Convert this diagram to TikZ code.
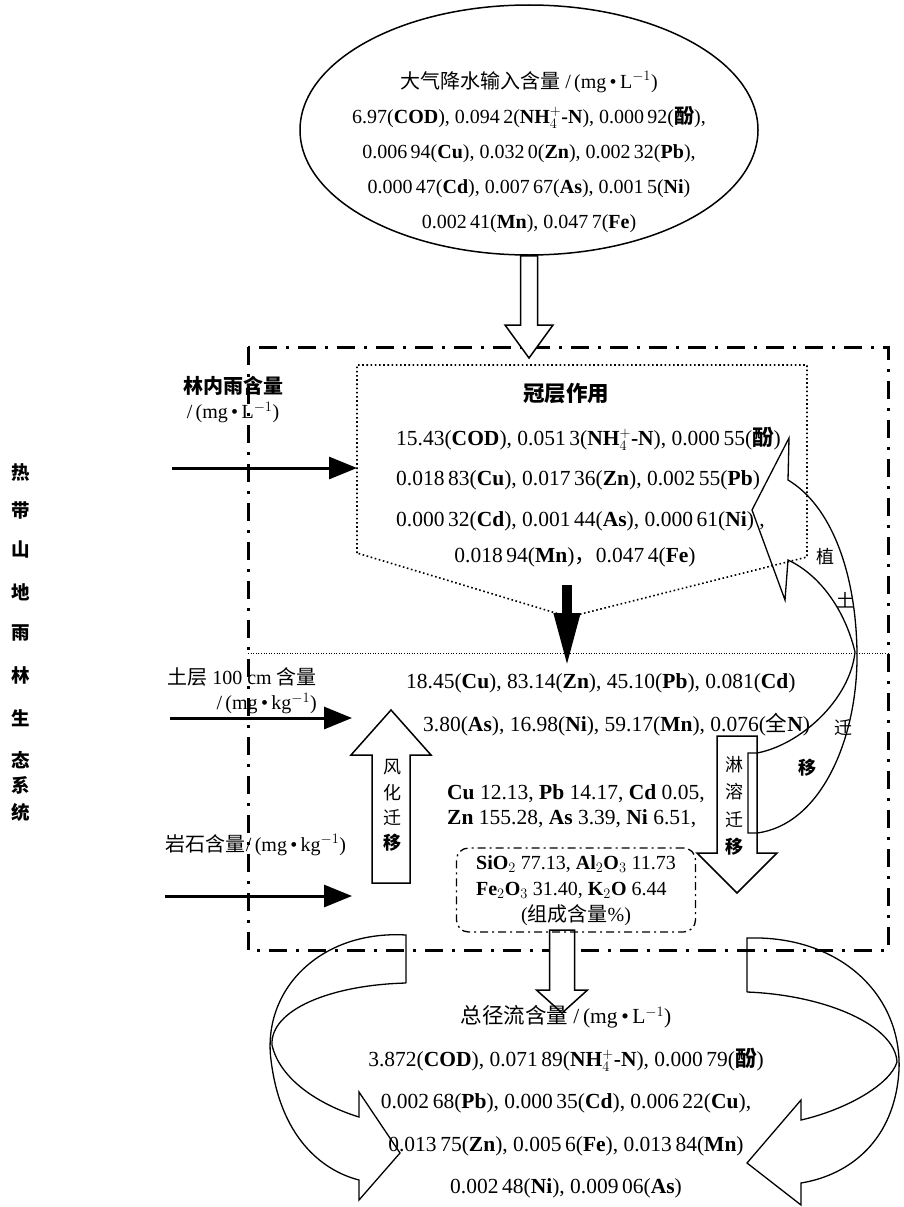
\documentclass[tikz,border=0pt]{standalone}
\usepackage{fontspec}
\setmainfont{Liberation Serif}
\newfontfamily\cjk{Noto Sans CJK SC}
\usetikzlibrary{arrows.meta,calc,shapes.geometric}

\newcommand{\zh}[1]{{\cjk #1}}
\newcommand{\unitL}{/\,(mg\,•\,L$^{-1}$)}
\newcommand{\unitkg}{/\,(mg\,•\,kg$^{-1}$)}
\newcommand{\nh}{\textbf{NH$_4^+$-N}}
\newcommand{\phen}{\zh{\bfseries 酚}}
% hollow block arrow: [opts]{tail}{tip}{half shaft}{half head}{signed head length}
\newcommand{\blockarrow}[6][]{%
  \draw[hollow,#1] let \p1=(#2), \p2=(#3) in
    (\x1-#4,\y1) -- (\x1-#4,{\y2+(#6)}) -- (\x1-#5,{\y2+(#6)}) -- (\x1,\y2)
    -- (\x1+#5,{\y2+(#6)}) -- (\x1+#4,{\y2+(#6)}) -- (\x1+#4,\y1) -- cycle;}

\begin{document}
\begin{tikzpicture}[x=1pt,y=-1pt,
    every node/.style={inner sep=0pt},
    body/.style={font=\fontsize{21.5}{40.5}\selectfont},
    lbl/.style={font=\fontsize{20}{25}\selectfont},
    syschar/.style={font=\fontsize{18.5}{18.5}\selectfont\cjk\bfseries},
    vchar/.style={font=\fontsize{18}{18}\selectfont\cjk},
    hollow/.style={draw, line width=1.5pt, line join=miter},
    ribbon/.style={draw, line width=1.3pt},
    feed/.style={line width=3pt, -{Triangle[length=28pt,width=22pt]}},
    drop/.style={line width=10pt, -{Triangle[length=55pt,width=24pt]}},
    sysbox/.style={line width=3pt, dash pattern=on 18pt off 9pt on 3pt off 9pt},
    canopybox/.style={line width=1.6pt, dash pattern=on 1.6pt off 2.6pt},
    layerline/.style={line width=1pt, dash pattern=on 1pt off 1.6pt},
    oxbox/.style={draw, line width=1.3pt, dash pattern=on 8pt off 4pt on 2pt off 4pt,
                  rounded corners=12pt, inner xsep=10pt, inner ysep=3pt,
                  minimum width=239pt, minimum height=84pt,
                  font=\fontsize{20}{26}\selectfont}]
\useasboundingbox (0,0) rectangle (903,1207);

% precipitation
\node[draw, ellipse, line width=1.5pt, minimum width=458pt, minimum height=250pt] (rain) at (529,130) {};
\node[body, font=\fontsize{20}{35}\selectfont, align=center] (raintxt) at (529,152) {%
  \zh{大气降水输入含量} \unitL\\
  6.97(\textbf{COD}), 0.094\,2(\nh), 0.000\,92(\phen),\\
  0.006\,94(\textbf{Cu}), 0.032\,0(\textbf{Zn}), 0.002\,32(\textbf{Pb}),\\
  0.000\,47(\textbf{Cd}), 0.007\,67(\textbf{As}), 0.001\,5(\textbf{Ni})\\
  0.002\,41(\textbf{Mn}), 0.047\,7(\textbf{Fe})};

% ecosystem frame
\coordinate (sysNW) at (248,347);
\coordinate (sysSE) at (888,950);
\draw[sysbox] (sysNW) rectangle (sysSE);
\draw[layerline] (248,653) -- (888,653);
\coordinate (rainin) at (529,358);
\blockarrow[fill=white]{rain.south}{rainin}{8.5pt}{24pt}{33pt}

\foreach \ch/\yy [count=\i] in {热/472,带/510,山/550,地/592,雨/633,林/675,生/718,态/760,系/785,统/812}
  \node[syschar] (sys\i) at (21,\yy) {\ch};

% canopy
\draw[canopybox] (357,553) -- (357,365) -- (807,365) -- (807,557) -- (569,617) -- cycle;
\node[body, font=\fontsize{21.5}{21.5}\selectfont\cjk\bfseries] (canopy) at (566,393) {冠层作用};
\node[body, align=left, anchor=west] (canopytxt) at (396,479) {%
  15.43(\textbf{COD}), 0.051\,3(\nh), 0.000\,55(\phen)\\
  0.018\,83(\textbf{Cu}), 0.017\,36(\textbf{Zn}), 0.002\,55(\textbf{Pb})\\
  0.000\,32(\textbf{Cd}), 0.001\,44(\textbf{As}), 0.000\,61(\textbf{Ni}) ,};
\node[body] (canopylast) at (575,557) {0.018\,94(\textbf{Mn})\zh{，}0.047\,4(\textbf{Fe})};
\coordinate (dropTop) at (567,585);
\coordinate (dropTip) at (567,668);
\draw[drop] (dropTop) -- (dropTip);

% inputs from the left
\node[lbl, align=center] (inrainlbl) at (233,400) {\zh{\bfseries 林内雨含量}\\\unitL};
\node[lbl, align=right, anchor=east] (soillbl) at (317,691) {\zh{土层} 100 cm \zh{含量}\\\unitkg};
\node[lbl] (rocklbl) at (256,845) {\zh{岩石含量}\unitkg};
\coordinate (inrain) at (172,468);
\coordinate (canopyW) at (357,468);
\coordinate (soilin) at (170,718);
\coordinate (soilW) at (352,718);
\coordinate (rockin) at (165,896);
\coordinate (rockW) at (352,896);
\draw[feed] (inrain) -- (canopyW);
\draw[feed] (soilin) -- (soilW);
\draw[feed] (rockin) -- (rockW);

% soil and rock
\node[body, anchor=west] (soil1) at (406,683) {18.45(\textbf{Cu}), 83.14(\textbf{Zn}), 45.10(\textbf{Pb}), 0.081(\textbf{Cd})};
\node[body, anchor=west] (soil2) at (423,725) {3.80(\textbf{As}), 16.98(\textbf{Ni}), 59.17(\textbf{Mn}), 0.076(\zh{全}\textbf{N})};
\node[body, font=\fontsize{21.5}{25}\selectfont, align=left, anchor=west] (rock) at (447,806) {%
  \textbf{Cu} 12.13, \textbf{Pb} 14.17, \textbf{Cd} 0.05,\\
  \textbf{Zn} 155.28, \textbf{As} 3.39, \textbf{Ni} 6.51,};

\coordinate (wbase) at (391,883);
\coordinate (wtip) at (391,710);
\blockarrow{wbase}{wtip}{19pt}{40pt}{-45pt}
\foreach \ch/\yy [count=\i] in {风/767,化/793,迁/818,{\bfseries 移}/843}
  \node[vchar] (wchar\i) at (392,\yy) {\ch};

\coordinate (ltop) at (737,736);
\coordinate (ltip) at (737,893);
\blockarrow{ltop}{ltip}{20pt}{40pt}{40pt}
\foreach \ch/\yy [count=\i] in {淋/765,溶/792,迁/820,{\bfseries 移}/847}
  \node[vchar] (lchar\i) at (734,\yy) {\ch};

% plant-soil cycling
\draw[ribbon] (757,753) -- (748,753) -- (748,833) -- (757,833)
  .. controls (820,825) and (858,740) .. (857,653)
  .. controls (856,570) and (830,505) .. (788,480)
  -- (789,438) -- (752,510) -- (785,600) -- (788,560)
  .. controls (820,575) and (845,610) .. (855,652)
  .. controls (850,700) and (800,745) .. (757,753);
\node[vchar] (ps1) at (825,557) {植};
\node[vchar] (ps2) at (845,600) {土};
\node[vchar] (ps3) at (843,728) {迁};
\node[vchar] (ps4) at (807,768) {\bfseries 移};

% runoff
\coordinate (outtop) at (562,930);
\coordinate (outtip) at (562,1013);
\blockarrow[fill=white]{outtop}{outtip}{12.5pt}{25.5pt}{23pt}
\node[oxbox] (oxide) at (576,890) {%
  \begin{tabular}{@{}l@{}}
  \textbf{SiO$_2$} 77.13, \textbf{Al$_2$O$_3$} 11.73\\
  \textbf{Fe$_2$O$_3$} 31.40, \textbf{K$_2$O} 6.44\\
  \multicolumn{1}{@{}c@{}}{(\zh{组成含量}\%)}
  \end{tabular}};

\node[body, font=\fontsize{21.5}{42.5}\selectfont, align=center] (runoff) at (566,1102) {%
  \zh{总径流含量} \unitL\\
  3.872(\textbf{COD}), 0.071\,89(\nh), 0.000\,79(\phen)\\
  0.002\,68(\textbf{Pb}), 0.000\,35(\textbf{Cd}), 0.006\,22(\textbf{Cu}),\\
  0.013\,75(\textbf{Zn}), 0.005\,6(\textbf{Fe}), 0.013\,84(\textbf{Mn})\\
  0.002\,48(\textbf{Ni}), 0.009\,06(\textbf{As})};

\draw[ribbon] (406,983) -- (406,935)
  .. controls (320,930) and (262,990) .. (271,1060)
  .. controls (280,1135) and (320,1170) .. (359,1180)
  -- (359,1200) -- (400,1153) -- (359,1092) -- (359,1117)
  .. controls (320,1105) and (280,1080) .. (272,1045)
  .. controls (270,1010) and (330,985) .. (406,983);
\draw[ribbon] (747,992) -- (747,938)
  .. controls (840,935) and (902,995) .. (899,1070)
  .. controls (895,1140) and (850,1175) .. (801,1183)
  -- (801,1205) -- (747,1163) -- (801,1100) -- (801,1120)
  .. controls (845,1110) and (890,1085) .. (897,1062)
  .. controls (895,1025) and (825,995) .. (747,992);
\end{tikzpicture}
\end{document}
